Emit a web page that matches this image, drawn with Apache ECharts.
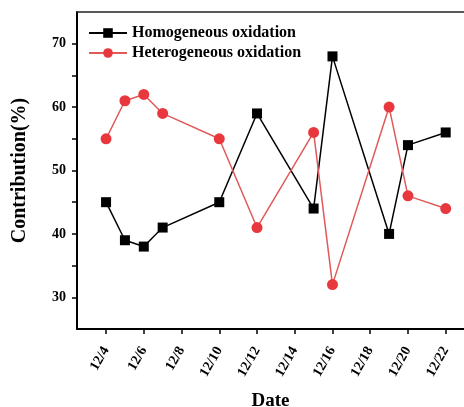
<!DOCTYPE html>
<html><head><meta charset="utf-8">
<script src="https://cdn.jsdelivr.net/npm/echarts@6/dist/echarts.min.js"></script>
<style>html,body{margin:0;padding:0;background:#fff}#c{width:464px;height:407px}</style>
</head><body><div id="c"></div>
<script>
const days = [4, 5, 6, 7, 10, 12, 15, 16, 19, 20, 22];
const homogeneous = [45, 39, 38, 41, 45, 59, 44, 68, 40, 54, 56];
const heterogeneous = [55, 61, 62, 59, 55, 41, 56, 32, 60, 46, 44];
const xTicks = [4, 6, 8, 10, 12, 14, 16, 18, 20, 22];
const yLabels = [30, 40, 50, 60, 70];
const yTicks = [30, 35, 40, 45, 50, 55, 60, 65, 70];
const font = '"Liberation Serif", "Times New Roman", serif';

const chart = echarts.init(document.getElementById('c'));
chart.setOption({
  animation: false,
  grid: {left: 77, top: 12, right: 0, bottom: 78, outerBoundsMode: 'none', containLabel: false},
  legend: {
    left: 83, top: 20, orient: 'vertical', itemWidth: 38, itemHeight: 12, itemGap: 4,
    textStyle: {fontFamily: font, fontWeight: 'bold', fontSize: 16, color: '#000', lineHeight: 16},
    data: ['Homogeneous oxidation', 'Heterogeneous oxidation']
  },
  xAxis: [{
    type: 'value', min: 2.46, max: 22.97,
    name: 'Date', nameLocation: 'middle', nameGap: 63,
    nameTextStyle: {fontFamily: font, fontWeight: 'bold', fontSize: 19, color: '#000'},
    axisLine: {lineStyle: {color: '#000', width: 2}},
    axisTick: {customValues: xTicks, length: 5, lineStyle: {color: '#000', width: 1.5}},
    axisLabel: {customValues: xTicks, formatter: v => '12/' + v, rotate: 60, margin: 19,
      fontFamily: font, fontWeight: 'bold', fontSize: 14, color: '#000'},
    splitLine: {show: false}
  }, {
    type: 'value', position: 'top', min: 2.46, max: 22.97,
    axisLine: {show: true, lineStyle: {color: '#222', width: 1.5}},
    axisTick: {show: false}, axisLabel: {show: false}, splitLine: {show: false}
  }],
  yAxis: {
    type: 'value', min: 25, max: 75,
    name: 'Contribution(%)', nameLocation: 'middle', nameGap: 47, nameRotate: 90,
    nameTextStyle: {fontFamily: font, fontWeight: 'bold', fontSize: 20, color: '#000'},
    axisLine: {show: true, lineStyle: {color: '#000', width: 2}},
    axisTick: {customValues: yTicks, length: 5, lineStyle: {color: '#000', width: 1.5}},
    axisLabel: {customValues: yLabels, margin: 11,
      fontFamily: font, fontWeight: 'bold', fontSize: 14, color: '#000'},
    splitLine: {show: false}
  },
  series: [{
    name: 'Homogeneous oxidation', type: 'line',
    data: days.map((d, i) => [d, homogeneous[i]]),
    symbol: 'rect', symbolSize: 10,
    itemStyle: {color: '#000'}, lineStyle: {color: '#000', width: 1.5}
  }, {
    name: 'Heterogeneous oxidation', type: 'line',
    data: days.map((d, i) => [d, heterogeneous[i]]),
    symbol: 'circle', symbolSize: 11,
    itemStyle: {color: '#e8383d'}, lineStyle: {color: '#e05a5a', width: 1.5}
  }]
});
</script></body></html>
